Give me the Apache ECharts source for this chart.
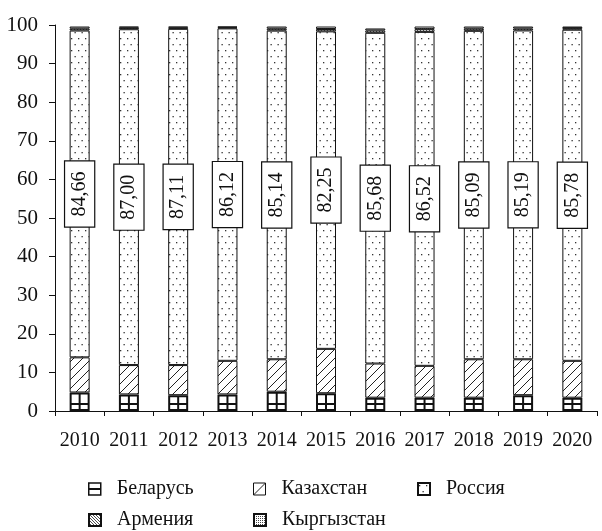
<!DOCTYPE html>
<html><head><meta charset="utf-8">
<script src="https://cdn.jsdelivr.net/npm/echarts@6/dist/echarts.min.js"></script>
<style>html,body{margin:0;padding:0;background:#fff}#c{width:602px;height:531px}</style>
</head><body><div id="c"></div>
<script>
const years = ['2010','2011','2012','2013','2014','2015','2016','2017','2018','2019','2020'];
const belarus = [4.8, 4.3, 4.1, 4.3, 5.0, 4.6, 3.45, 3.45, 3.45, 4.1, 3.45];
const kazakhstan = [9.1, 7.6, 7.8, 8.7, 8.4, 11.5, 8.85, 8.25, 9.95, 9.3, 9.55];
const russia = [84.66, 87.00, 87.11, 86.12, 85.14, 82.25, 85.68, 86.52, 85.09, 85.19, 85.78];
const armenia = [0.5, 0.4, 0.3, 0.25, 0.5, 0.6, 0.6, 0.7, 0.55, 0.5, 0.4];
const kyrgyzstan = [0.54, 0.3, 0.29, 0.23, 0.56, 0.65, 0.52, 0.68, 0.56, 0.51, 0.42];
const yTicks = [0,10,20,30,40,50,60,70,80,90,100];

const W = 602, H = 531;
const G = {left: 55, right: 5, top: 25, bottom: 120};
const gridW = W - G.left - G.right;
const band = gridW / years.length;
const FONT = '"Liberation Serif","Times New Roman",serif';

function mk(w, h, draw) {
  const c = document.createElement('canvas'); c.width = w; c.height = h;
  const x = c.getContext('2d'); x.fillStyle = '#fff'; x.fillRect(0, 0, w, h);
  draw(x); return c;
}
// Belarus: vertical line through each bar centre + horizontal line
const belPat = mk(W, 12, x => {
  x.strokeStyle = '#111'; x.lineWidth = 2;
  for (let i = 0; i < years.length; i++) {
    const cx = G.left + band * (i + 0.5);
    x.beginPath(); x.moveTo(cx, 0); x.lineTo(cx, 12); x.stroke();
  }
  x.beginPath(); x.moveTo(0, 8); x.lineTo(W, 8); x.stroke();
});
const belIcon = mk(12, 12, x => {
  x.strokeStyle = '#111'; x.lineWidth = 2;
  x.beginPath(); x.moveTo(0, 6); x.lineTo(12, 6); x.stroke();
});
const kazPat = mk(9, 9, x => {
  x.strokeStyle = '#222'; x.lineWidth = 1;
  x.beginPath(); x.moveTo(0, 9); x.lineTo(9, 0); x.stroke();
  x.beginPath(); x.moveTo(-1, 1); x.lineTo(1, -1); x.stroke();
  x.beginPath(); x.moveTo(8, 10); x.lineTo(10, 8); x.stroke();
});
const kazIcon = mk(12, 12, x => {
  x.strokeStyle = '#222'; x.lineWidth = 1;
  x.beginPath(); x.moveTo(0, 12); x.lineTo(12, 0); x.stroke();
});
const rusPat = mk(7, 12, x => {
  x.fillStyle = '#333';
  x.fillRect(1, 2, 1.3, 1.3);
  x.fillRect(4.5, 8, 1.3, 1.3);
});
const armPat = mk(3, 3, x => {
  x.strokeStyle = '#222'; x.lineWidth = 0.8;
  x.beginPath(); x.moveTo(0, 0); x.lineTo(3, 3); x.stroke();
});
const kyrPat = mk(2, 2, x => {
  x.fillStyle = '#444'; x.fillRect(0, 0, 1, 1);
});
const pat = c => ({image: c, repeat: 'repeat'});

function series(name, data, patCanvas, bw, extra) {
  return Object.assign({
    name, type: 'bar', stack: 'all', data, barWidth: 20,
    itemStyle: {color: pat(patCanvas), borderColor: '#111', borderWidth: bw},
    emphasis: {disabled: true}
  }, extra || {});
}

const legendBase = {
  itemWidth: 12, itemHeight: 12, icon: 'rect', padding: 0,
  textStyle: {fontFamily: FONT, fontSize: 20, color: '#111', padding: [0, 0, 0, 11]},
  selectedMode: false
};
const legendPos = [
  ['Беларусь', 88, 479, {color: pat(belIcon), borderWidth: 1.5, borderColor: '#111'}],
  ['Казахстан', 253, 479, {color: pat(kazIcon), borderWidth: 1, borderColor: '#111'}],
  ['Россия', 417, 479, null],
  ['Армения', 88, 510, null],
  ['Кыргызстан', 253, 510, null]
];

const chart = echarts.init(document.getElementById('c'), null, {renderer: 'canvas'});
chart.setOption({
  animation: false,
  backgroundColor: '#fff',
  grid: G,
  legend: legendPos.map(([n, l, t, st]) => Object.assign({}, legendBase, {data: [n], left: l, top: t}, st ? {itemStyle: st} : {})),
  xAxis: {
    type: 'category', data: years,
    axisLine: {lineStyle: {color: '#111', width: 1}},
    axisTick: {show: true, length: 5, lineStyle: {color: '#111'}},
    axisLabel: {fontFamily: FONT, fontSize: 20, color: '#111', margin: 20, interval: 0}
  },
  yAxis: {
    type: 'value', min: yTicks[0], max: yTicks[yTicks.length - 1], interval: 10,
    splitLine: {show: false},
    axisLine: {show: true, lineStyle: {color: '#111', width: 1}},
    axisTick: {show: true, length: 6, lineStyle: {color: '#111'}},
    axisLabel: {fontFamily: FONT, fontSize: 21, color: '#111', margin: 17}
  },
  series: [
    series('Беларусь', belarus, belPat, 2),
    series('Казахстан', kazakhstan, kazPat, 1),
    series('Россия', russia, rusPat, 1, {
      label: {
        show: true, position: 'inside', rotate: 90,
        formatter: p => p.value.toFixed(2).replace('.', ','),
        fontFamily: FONT, fontSize: 20, color: '#111', lineHeight: 22,
        backgroundColor: '#fff', borderColor: '#111', borderWidth: 1.2,
        padding: [4, 10, 3, 10]
      }
    }),
    series('Армения', armenia, armPat, 1),
    series('Кыргызстан', kyrgyzstan, kyrPat, 1)
  ]
});
</script></body></html>
